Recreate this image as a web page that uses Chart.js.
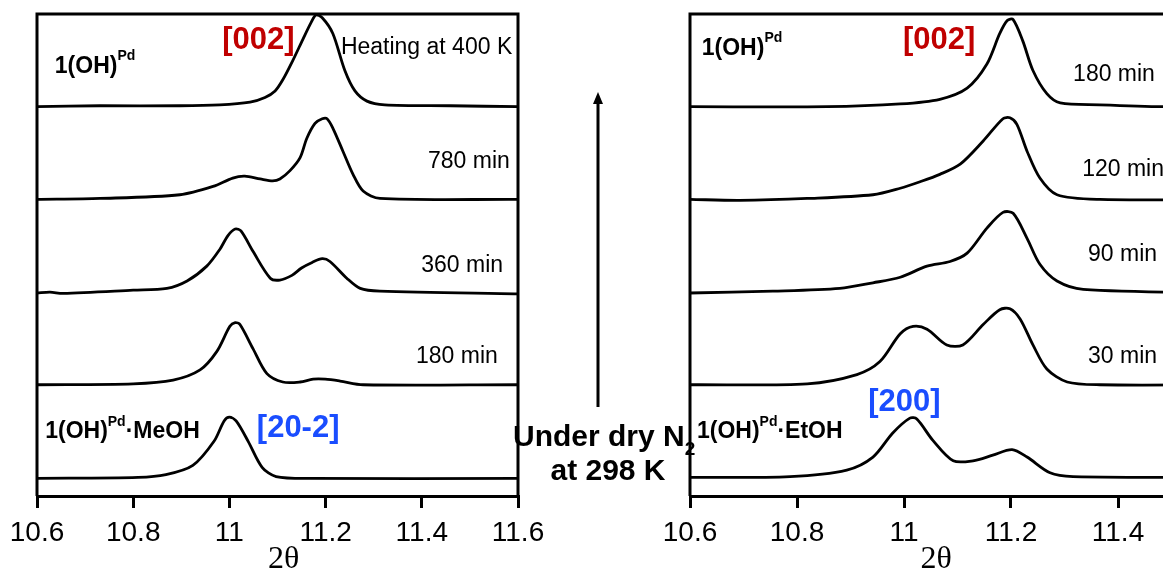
<!DOCTYPE html>
<html>
<head>
<meta charset="utf-8">
<script src="https://cdn.jsdelivr.net/npm/chart.js@4"></script>
<style>
  html, body { margin: 0; padding: 0; background: #fff; overflow: hidden; width: 1163px; height: 571px; }
  #left { position: absolute; left: 0; top: 0; }
  #right { position: absolute; left: 640px; top: 0; }
</style>
</head>
<body>
<canvas id="left" width="720" height="571"></canvas>
<canvas id="right" width="620" height="571"></canvas>
<script>
// x axis (2-theta) ticks
const xTicks = [10.6, 10.8, 11.0, 11.2, 11.4, 11.6];
// each trace is shifted up by one unit, bottom to top
const stackOffsets = [0, 1, 2, 3, 4];

// left panel: MeOH solvate, 180 / 360 / 780 min, heated at 400 K
const meohX = [10.600, 10.810, 10.868, 10.924, 10.968, 10.989, 11.000, 11.014, 11.039, 11.068, 11.097, 11.168, 11.600];
const meohY = [-0.01, 0, 0.03, 0.13, 0.39, 0.61, 0.65, 0.61, 0.39, 0.11, 0.01, -0.01, -0.01];
const l180X = [10.600, 10.800, 10.883, 10.939, 10.974, 11.001, 11.012, 11.022, 11.049, 11.078, 11.111, 11.147, 11.174, 11.199, 11.230, 11.278, 11.600];
const l180Y = [0, 0.01, 0.05, 0.16, 0.36, 0.63, 0.67, 0.65, 0.39, 0.12, 0.03, 0.03, 0.06, 0.06, 0.04, 0, 0];
const l360X = [10.600, 10.627, 10.654, 10.800, 10.870, 10.912, 10.953, 10.980, 10.997, 11.012, 11.024, 11.049, 11.085, 11.105, 11.130, 11.150, 11.172, 11.193, 11.209, 11.244, 11.272, 11.313, 11.600];
const l360Y = [-0.01, 0.0, -0.015, 0.02, 0.04, 0.12, 0.28, 0.46, 0.61, 0.68, 0.66, 0.44, 0.15, 0.13, 0.18, 0.26, 0.32, 0.36, 0.33, 0.15, 0.04, 0.01, -0.02];
const l780X = [10.600, 10.731, 10.897, 10.966, 11.007, 11.032, 11.064, 11.090, 11.105, 11.126, 11.147, 11.161, 11.178, 11.193, 11.203, 11.215, 11.236, 11.257, 11.278, 11.313, 11.600];
const l780Y = [0, 0.01, 0.05, 0.14, 0.23, 0.25, 0.22, 0.20, 0.22, 0.31, 0.45, 0.66, 0.82, 0.87, 0.87, 0.77, 0.52, 0.27, 0.09, 0.01, 0];
const heatX = [10.600, 10.731, 10.897, 10.980, 11.043, 11.074, 11.095, 11.111, 11.132, 11.153, 11.170, 11.180, 11.193, 11.215, 11.240, 11.261, 11.286, 11.323, 11.459, 11.600];
const heatY = [0, 0.01, 0.01, 0.02, 0.05, 0.10, 0.17, 0.29, 0.50, 0.73, 0.91, 0.99, 0.96, 0.79, 0.39, 0.17, 0.06, 0.02, 0.01, 0];

// right panel: EtOH solvate, 30 / 90 / 120 / 180 min
const etohX = [10.600, 10.787, 10.893, 10.942, 10.979, 11.011, 11.024, 11.054, 11.092, 11.129, 11.166, 11.202, 11.230, 11.273, 11.316, 11.600];
const etohY = [0, 0.01, 0.08, 0.22, 0.48, 0.64, 0.63, 0.40, 0.18, 0.18, 0.24, 0.30, 0.22, 0.05, 0.01, 0];
const r30X = [10.600, 10.819, 10.912, 10.955, 10.993, 11.017, 11.043, 11.080, 11.110, 11.148, 11.179, 11.198, 11.217, 11.241, 11.267, 11.305, 11.366, 11.600];
const r30Y = [0, 0.01, 0.11, 0.25, 0.55, 0.63, 0.60, 0.43, 0.43, 0.65, 0.81, 0.82, 0.71, 0.43, 0.17, 0.03, 0, 0];
const r90X = [10.600, 10.755, 10.880, 10.942, 10.993, 11.043, 11.086, 11.118, 11.155, 11.185, 11.204, 11.230, 11.254, 11.286, 11.335, 11.600];
const r90Y = [-0.01, 0.01, 0.04, 0.10, 0.16, 0.28, 0.33, 0.42, 0.69, 0.86, 0.85, 0.58, 0.30, 0.12, 0.03, -0.01];
const r120X = [10.600, 10.693, 10.819, 10.942, 10.993, 11.030, 11.067, 11.105, 11.148, 11.185, 11.198, 11.211, 11.230, 11.254, 11.286, 11.366, 11.600];
const r120Y = [0, -0.01, 0.01, 0.05, 0.12, 0.19, 0.27, 0.38, 0.63, 0.87, 0.88, 0.81, 0.52, 0.23, 0.05, 0, 0];
const r180X = [10.600, 10.856, 10.993, 11.067, 11.118, 11.155, 11.179, 11.193, 11.204, 11.222, 11.241, 11.267, 11.292, 11.366, 11.484, 11.600];
const r180Y = [0, 0, 0.03, 0.08, 0.20, 0.46, 0.79, 0.93, 0.94, 0.71, 0.39, 0.14, 0.04, 0.02, 0, 0];

// annotations, placed in data units
const leftNotes = [
  { text: '1(OH)^{Pd}', x: 10.637, y: 4.43, kind: 'name' },
  { text: '[002]', x: 10.985, y: 4.71, kind: 'red' },
  { text: 'Heating at 400 K', x: 11.588, y: 4.64, kind: 'time', align: 'right' },
  { text: '780 min', x: 11.583, y: 3.41, kind: 'time', align: 'right' },
  { text: '360 min', x: 11.569, y: 2.29, kind: 'time', align: 'right' },
  { text: '180 min', x: 11.558, y: 1.30, kind: 'time', align: 'right' },
  { text: '1(OH)^{Pd}·MeOH', x: 10.617, y: 0.49, kind: 'name' },
  { text: '[20-2]', x: 11.057, y: 0.53, kind: 'blue' }
];
const rightNotes = [
  { text: '1(OH)^{Pd}', x: 10.622, y: 4.63, kind: 'name' },
  { text: '[002]', x: 10.998, y: 4.71, kind: 'red' },
  { text: '180 min', x: 11.469, y: 4.35, kind: 'time', align: 'right' },
  { text: '120 min', x: 11.333, y: 3.32, kind: 'time' },
  { text: '90 min', x: 11.473, y: 2.40, kind: 'time', align: 'right' },
  { text: '30 min', x: 11.473, y: 1.30, kind: 'time', align: 'right' },
  { text: '[200]', x: 10.933, y: 0.81, kind: 'blue' },
  { text: '1(OH)^{Pd}·EtOH', x: 10.613, y: 0.49, kind: 'name' }
];

const SANS = '"Liberation Sans", Arial, sans-serif';
const kinds = {
  name: { size: 23, weight: 'bold', color: '#000' },
  time: { size: 23, weight: 'normal', color: '#000' },
  red:  { size: 31, weight: 'bold', color: '#c00000' },
  blue: { size: 31, weight: 'bold', color: '#1a4dff' },
  mid:  { size: 30, weight: 'bold', color: '#000' }
};

// split "a^{b}c_{d}" into pieces with a shift
function pieces(str) {
  const out = [];
  const re = /([\^_])\{([^}]*)\}/g;
  let last = 0, m;
  while ((m = re.exec(str))) {
    if (m.index > last) out.push({ t: str.slice(last, m.index), mode: 0 });
    out.push({ t: m[2], mode: m[1] === '^' ? 1 : -1 });
    last = re.lastIndex;
  }
  if (last < str.length) out.push({ t: str.slice(last), mode: 0 });
  return out;
}

function drawRich(ctx, str, x, y, k, align) {
  const parts = pieces(str);
  const fontOf = p => {
    const s = p.mode ? Math.round(k.size * 0.62) : k.size;
    return k.weight + ' ' + s + 'px ' + SANS;
  };
  let w = 0;
  parts.forEach(p => { ctx.font = fontOf(p); w += ctx.measureText(p.t).width; });
  let cx = align === 'right' ? x - w : align === 'center' ? x - w / 2 : x;
  ctx.fillStyle = k.color;
  ctx.textAlign = 'left';
  ctx.textBaseline = 'middle';
  parts.forEach(p => {
    ctx.font = fontOf(p);
    const dy = p.mode === 1 ? -k.size * 0.45 : p.mode === -1 ? k.size * 0.4 : 0;
    ctx.fillText(p.t, cx, y + dy);
    cx += ctx.measureText(p.t).width;
  });
}

const notesPlugin = {
  id: 'notes',
  afterDraw(chart, args, opts) {
    const { ctx, chartArea: a, scales } = chart;
    ctx.save();
    // open box: left, top, right
    ctx.strokeStyle = '#000';
    ctx.lineWidth = 3;
    ctx.beginPath();
    ctx.moveTo(a.left, a.bottom);
    ctx.lineTo(a.left, a.top);
    ctx.lineTo(a.right, a.top);
    ctx.lineTo(a.right, a.bottom);
    ctx.stroke();

    (opts.items || []).forEach(n => {
      drawRich(ctx, n.text, scales.x.getPixelForValue(n.x), scales.y.getPixelForValue(n.y), kinds[n.kind], n.align);
    });

    // axis title 2θ
    ctx.font = '32px "Liberation Serif", "Times New Roman", serif';
    ctx.fillStyle = '#000';
    ctx.textAlign = 'center';
    ctx.textBaseline = 'middle';
    ctx.fillText('2θ', scales.x.getPixelForValue(opts.titleAt), scales.x.bottom - 11);

    if (opts.middle) {
      const ax = a.right + 80;
      ctx.lineWidth = 3;
      ctx.beginPath();
      ctx.moveTo(ax, a.bottom - 89);
      ctx.lineTo(ax, a.top + 88);
      ctx.stroke();
      ctx.fillStyle = '#000';
      ctx.beginPath();
      ctx.moveTo(ax, a.top + 78);
      ctx.lineTo(ax - 5, a.top + 90);
      ctx.lineTo(ax + 5, a.top + 90);
      ctx.closePath();
      ctx.fill();
      drawRich(ctx, 'Under dry N_{2}', a.right - 5, a.bottom - 58, kinds.mid, 'left');
      drawRich(ctx, 'at 298 K', a.right + 90, a.bottom - 24, kinds.mid, 'center');
    }
    ctx.restore();
  }
};

function trace(xs, ys, off) {
  return {
    data: xs.map((x, i) => ({ x: x, y: off + ys[i] })),
    borderColor: '#000',
    borderWidth: 2.8,
    pointRadius: 0,
    fill: false,
    clip: false,
    tension: 0.3
  };
}

function makeChart(id, sets, padding, notes, titleAt, middle) {
  return new Chart(document.getElementById(id), {
    type: 'line',
    data: { datasets: sets },
    options: {
      responsive: false,
      animation: false,
      devicePixelRatio: 1,
      parsing: false,
      layout: { padding: padding },
      plugins: {
        legend: { display: false },
        tooltip: { enabled: false },
        notes: { items: notes, titleAt: titleAt, middle: middle }
      },
      scales: {
        x: {
          type: 'linear',
          min: 10.6,
          max: 11.6,
          afterBuildTicks: s => { s.ticks = xTicks.map(v => ({ value: v })); },
          afterFit: s => { s.height = 75; },
          ticks: {
            autoSkip: false,
            maxRotation: 0,
            padding: 8,
            color: '#000',
            font: { family: SANS, size: 28 },
            callback: v => String(Math.round(v * 10) / 10)
          },
          grid: { display: true, drawOnChartArea: false, drawTicks: true, tickLength: 12, color: '#000', lineWidth: 3 },
          border: { display: true, color: '#000', width: 3 }
        },
        y: { type: 'linear', display: false, min: -0.2, max: 5.0 }
      }
    },
    plugins: [notesPlugin]
  });
}

const leftSets = [
  trace(meohX, meohY, stackOffsets[0]),
  trace(l180X, l180Y, stackOffsets[1]),
  trace(l360X, l360Y, stackOffsets[2]),
  trace(l780X, l780Y, stackOffsets[3]),
  trace(heatX, heatY, stackOffsets[4])
];
const rightSets = [
  trace(etohX, etohY, stackOffsets[0]),
  trace(r30X, r30Y, stackOffsets[1]),
  trace(r90X, r90Y, stackOffsets[2]),
  trace(r120X, r120Y, stackOffsets[3]),
  trace(r180X, r180Y, stackOffsets[4])
];

makeChart('left', leftSets, { left: 37, right: 202, top: 14, bottom: 0 }, leftNotes, 11.113, true);
makeChart('right', rightSets, { left: 50, right: 35, top: 14, bottom: 0 }, rightNotes, 11.06, false);
</script>
</body>
</html>
